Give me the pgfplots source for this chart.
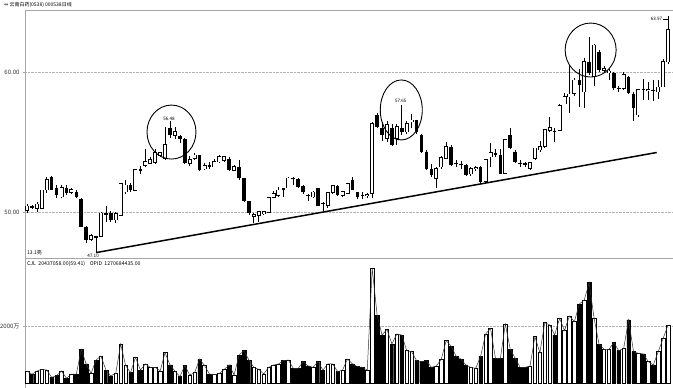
\documentclass[border=0pt]{standalone}
\usepackage{pgfplots}
\pgfplotsset{compat=1.18}
\usepackage{pgfplotstable}
\usepackage{fontspec}
\setmainfont{Noto Sans CJK SC}
\newfontfamily\sym{DejaVu Sans}

\pgfplotstableread{
i o h l c v
0 50.15 50.55 49.95 50.40 421
1 50.42 50.50 50.25 50.35 305
2 50.26 50.70 50.00 50.55 421
3 50.30 51.60 50.20 51.55 480
4 51.60 52.50 51.35 52.30 456
5 52.50 52.55 51.55 51.60 200
6 51.70 51.90 51.00 51.20 257
7 51.10 51.95 51.00 51.75 421
8 51.75 51.90 51.20 51.35 164
9 51.40 51.75 51.30 51.60 316
10 51.45 51.60 51.00 51.10 316
11 50.95 51.00 48.90 48.95 1182
12 48.95 49.00 47.80 48.00 667
13 48.05 48.40 47.95 48.30 339
14 48.25 48.30 47.10 48.15 807
15 48.25 50.00 48.20 49.90 947
16 49.90 50.40 49.30 49.80 456
17 49.90 50.10 49.30 49.45 250
18 49.45 50.00 49.20 49.85 339
19 49.80 52.10 49.70 52.00 1368
20 51.45 52.30 51.30 51.90 611
21 51.95 52.10 51.40 51.55 362
22 51.55 53.10 51.50 53.00 900
23 53.10 53.30 52.70 52.90 456
24 53.35 54.50 53.25 53.60 667
25 53.50 53.90 53.40 53.70 550
26 53.55 54.50 53.40 54.20 550
27 54.05 54.30 53.90 54.20 421
28 53.85 56.10 53.70 54.80 1064
29 56.00 56.48 55.30 55.50 632
30 55.50 56.10 55.20 55.75 421
31 55.40 55.50 54.90 55.25 222
32 55.25 55.30 53.40 53.50 611
33 53.50 54.00 53.30 53.70 281
34 53.85 54.20 53.70 54.05 362
35 54.05 54.10 52.90 53.00 842
36 53.10 53.50 53.00 53.30 611
37 53.35 53.60 53.10 53.25 316
38 53.25 53.80 53.20 53.60 292
39 53.60 54.10 53.50 53.95 330
40 53.70 54.00 53.60 53.95 480
41 53.80 53.90 52.90 53.00 632
42 53.00 53.35 52.90 53.20 281
43 53.25 53.70 52.30 52.40 982
44 52.40 52.45 50.70 50.75 1134
45 50.75 50.80 49.80 49.90 807
46 49.70 49.90 49.20 49.80 550
47 49.80 50.10 49.30 50.00 480
48 49.90 50.10 49.80 50.00 316
49 50.00 51.05 49.95 51.00 550
50 51.05 51.50 51.00 51.30 632
51 51.20 51.80 51.10 51.55 667
52 51.70 51.75 51.10 51.65 784
53 51.75 52.50 51.70 52.40 807
54 52.45 52.50 51.90 52.40 515
55 52.35 52.40 51.70 51.80 515
56 51.85 51.90 51.30 51.45 748
57 51.25 51.30 50.80 51.20 597
58 51.10 51.50 51.00 51.40 550
59 51.70 51.75 50.40 50.45 748
60 50.65 50.75 50.10 50.60 456
61 50.50 51.40 50.30 51.35 667
62 51.40 51.90 51.30 51.85 667
63 51.85 51.90 51.15 51.20 398
64 51.20 51.50 51.10 51.45 456
65 51.35 52.05 51.30 52.00 842
66 52.30 52.50 51.55 51.60 667
67 51.40 51.45 50.90 51.10 573
68 51.25 51.40 50.90 51.20 550
69 51.20 51.35 51.00 51.25 456
70 51.35 56.40 51.00 56.30 4024
71 56.90 57.10 56.00 56.10 2386
72 56.00 56.40 55.10 55.50 1684
73 55.30 56.50 55.00 56.25 1883
74 56.00 56.30 54.70 54.80 1368
75 55.30 56.30 54.80 56.10 1719
76 56.00 57.65 55.50 55.75 1684
77 55.75 56.50 55.60 56.30 1134
78 56.45 57.00 56.00 56.55 1099
79 56.55 56.60 55.60 55.75 784
80 55.50 55.60 54.20 54.30 748
81 54.30 54.40 53.00 53.10 784
82 53.10 53.40 52.50 52.65 550
83 52.40 53.20 51.70 53.10 597
84 53.25 54.00 53.10 53.85 830
85 53.85 55.00 53.80 54.65 1485
86 54.65 54.80 53.30 53.35 1298
87 53.50 53.70 53.20 53.45 947
88 53.45 53.65 53.10 53.40 842
89 53.35 53.40 52.60 52.65 632
90 52.75 53.20 52.60 53.10 550
91 53.10 53.30 52.90 53.15 515
92 53.25 53.30 52.10 52.15 947
93 52.20 53.80 52.10 53.75 1719
94 53.95 54.90 53.25 54.20 1918
95 54.20 54.50 53.90 54.15 866
96 54.05 54.50 52.70 52.75 866
97 52.80 55.20 52.70 55.15 2070
98 55.50 56.00 54.50 54.55 1182
99 54.30 54.40 53.50 53.60 866
100 53.50 53.70 53.20 53.45 550
101 53.50 53.60 53.20 53.35 550
102 53.15 53.60 53.00 53.50 597
103 53.85 54.60 53.70 54.55 1626
104 54.45 55.10 54.30 54.65 1064
105 54.70 55.90 54.60 55.85 2117
106 55.85 56.80 55.70 56.00 2035
107 55.80 56.00 55.00 55.75 1684
108 55.85 57.70 55.80 57.60 2269
109 57.75 58.50 57.70 58.25 1836
110 58.25 60.50 57.10 58.40 2351
111 58.50 59.60 58.30 59.40 2152
112 59.45 60.20 57.50 59.05 2772
113 58.60 61.00 57.40 60.70 2912
114 60.75 62.50 59.80 59.90 3520
115 59.70 62.00 59.00 61.90 2269
116 61.45 61.60 60.00 60.15 1368
117 60.15 60.40 59.90 60.25 1182
118 60.00 60.20 59.40 60.05 1182
119 59.90 60.00 58.70 58.85 1415
120 58.85 59.00 58.60 58.80 1134
121 58.85 60.00 58.70 59.80 1216
122 59.65 59.70 58.40 58.50 2211
123 58.45 58.60 56.50 57.40 1099
124 56.95 58.80 56.80 58.75 1040
125 58.80 59.50 58.00 58.75 1018
126 58.70 59.30 58.00 58.75 748
127 58.75 59.40 57.90 58.70 632
128 58.60 59.40 58.10 58.90 1099
129 58.95 60.90 58.90 60.75 1567
130 60.75 63.97 60.60 63.00 2035
}\kdata

\begin{document}
\begin{tikzpicture}[x=1pt,y=1pt]
\path[use as bounding box] (0,0) rectangle (673,388);

% ---------- price panel ----------
\begin{axis}[
  at={(25pt,130pt)}, anchor=south west,
  scale only axis, width=648pt, height=248pt,
  xmin=-0.406, xmax=131.0, ymin=46.714, ymax=64.43,
  axis x line*=top, axis y line*=left,
  axis line style={gray!70, line width=0.6pt},
  xtick=\empty,
  ytick={50,60}, yticklabels={50.00,60.00},
  yticklabel style={font=\fontsize{6}{7}\selectfont, text=black!80},
  tick style={gray!70}, tick align=outside, major tick length=2pt,
  ymajorgrids, grid style={densely dotted, gray!60, line width=0.5pt},
]
% wicks
\addplot[draw=none, mark=none, forget plot,
  error bars/.cd, y dir=both, y explicit, error mark=none,
  error bar style={draw=black, line width=0.7pt}]
  table[x=i, y expr={(\thisrow{h}+\thisrow{l})/2}, y error expr={(\thisrow{h}-\thisrow{l})/2}] {\kdata};
% falling bodies (filled)
\addplot[draw=none, mark=none, forget plot, unbounded coords=discard,
  error bars/.cd, y dir=both, y explicit, error mark=none,
  error bar style={draw=black, line width=3.6pt}]
  table[x=i, y expr={\thisrow{c}<\thisrow{o} ? (\thisrow{o}+\thisrow{c})/2 : nan},
        y error expr={(\thisrow{o}-\thisrow{c})/2}] {\kdata};
% rising bodies (hollow): outline then white
\addplot[draw=none, mark=none, forget plot, unbounded coords=discard,
  error bars/.cd, y dir=both, y explicit, error mark=none,
  error bar style={draw=black, line width=4.0pt}]
  table[x=i, y expr={\thisrow{c}>=\thisrow{o} ? (\thisrow{o}+\thisrow{c})/2 : nan},
        y error expr={(\thisrow{c}-\thisrow{o})/2+0.055}] {\kdata};
\addplot[draw=none, mark=none, forget plot, unbounded coords=discard,
  error bars/.cd, y dir=both, y explicit, error mark=none,
  error bar style={draw=white, line width=2.4pt}]
  table[x=i, y expr={\thisrow{c}>=\thisrow{o} ? (\thisrow{o}+\thisrow{c})/2 : nan},
        y error expr={(\thisrow{c}-\thisrow{o})/2}] {\kdata};
% trend line
\addplot[black, line width=1.5pt, mark=none] coordinates {(14,47.1) (127.7,54.25)};
% circles
\draw[black, line width=0.9pt] (axis cs:29.3,55.71) ellipse [x radius=24.5pt, y radius=27pt];
\draw[black, line width=0.9pt] (axis cs:75.9,57.29) ellipse [x radius=21pt, y radius=30pt];
\draw[black, line width=0.9pt] (axis cs:114.3,61.57) ellipse [x radius=25.5pt, y radius=27pt];
% price labels
\node[font=\fontsize{4.6}{5}\selectfont, anchor=south, inner sep=0.6pt] at (axis cs:28.8,56.5) {56.48};
\node[font=\fontsize{4.6}{5}\selectfont, anchor=south, inner sep=0.6pt] at (axis cs:75.8,57.75) {57.65};
\node[font=\fontsize{4.6}{5}\selectfont, anchor=north, inner sep=0.6pt] at (axis cs:13.4,47.05) {47.10};
\draw[black, line width=0.4pt] (axis cs:130,63.80) -- ([xshift=-5pt]axis cs:130,63.80);
\node[font=\fontsize{4.6}{5}\selectfont, anchor=east, inner sep=0.6pt] at ([xshift=-5pt]axis cs:130,63.80) {63.97};
\end{axis}

% ---------- volume panel ----------
\begin{axis}[
  at={(25pt,0pt)}, anchor=south west,
  scale only axis, width=648pt, height=130pt,
  xmin=-0.406, xmax=131.0, ymin=-175, ymax=4386,
  axis x line*=top, axis y line*=left,
  axis line style={gray!70, line width=0.6pt},
  xtick=\empty,
  ytick={2000}, yticklabels={2000万},
  yticklabel style={font=\fontsize{6}{7}\selectfont, text=black!80},
  tick style={gray!70}, tick align=outside, major tick length=2pt,
  ymajorgrids, grid style={densely dotted, gray!60, line width=0.5pt},
]
\addplot[ybar, bar width=3.6pt, bar shift=0pt, fill=black, draw=black, line width=0.4pt, unbounded coords=discard]
  table[x=i, y expr={\thisrow{c}<\thisrow{o} ? \thisrow{v} : nan}] {\kdata};
\addplot[ybar, bar width=3.6pt, bar shift=0pt, fill=white, draw=black, line width=0.6pt, unbounded coords=discard]
  table[x=i, y expr={\thisrow{c}>=\thisrow{o} ? \thisrow{v} : nan}] {\kdata};
\addplot[black!80, line width=0.5pt, mark=none] table[x=i, y=v] {\kdata};
\end{axis}

% ---------- texts ----------
\node[anchor=west, inner sep=0pt, font=\fontsize{5}{6}\selectfont] at (4,383.5) {{\sym ⇔} 云南白药(0538) 000538日线};
\node[anchor=west, inner sep=0pt, font=\fontsize{5}{6}\selectfont] at (27,135) {13.1亮};
\node[anchor=west, inner sep=0pt, font=\fontsize{5.2}{6}\selectfont] at (27,124) {CJL\ \ 20437058.00(59.41)\ \ \ \ OPID\ \ 1270684435.00};
\end{tikzpicture}
\end{document}
